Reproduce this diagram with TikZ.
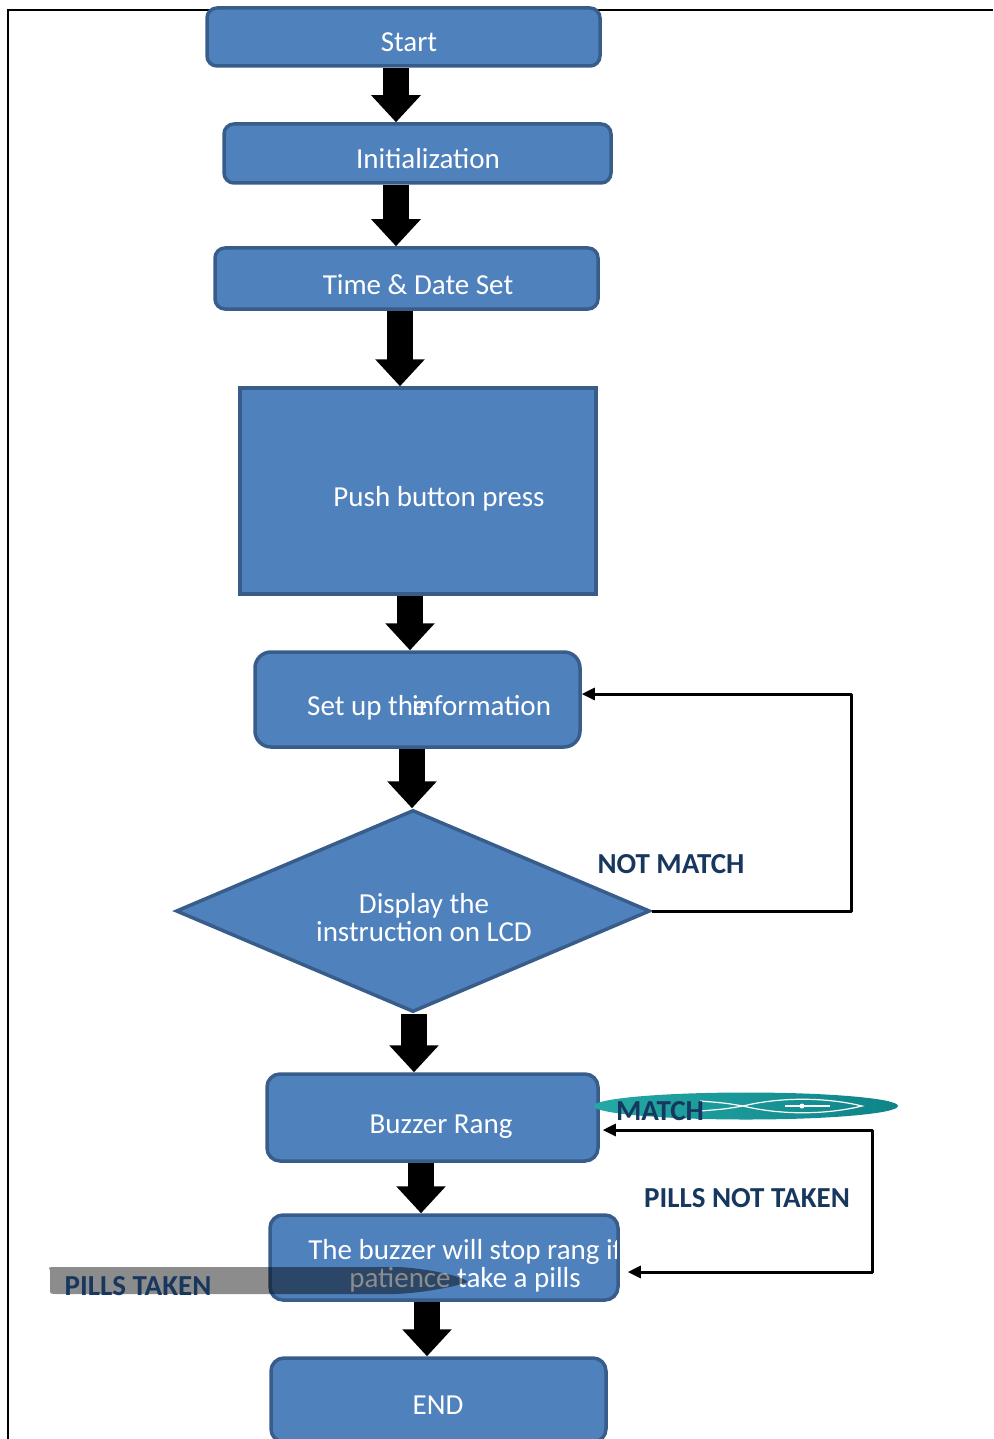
\documentclass[tikz,border=0pt]{standalone}
\usepackage{fontspec}
\setmainfont{Carlito}
\usetikzlibrary{arrows.meta,shapes.geometric,calc}
\definecolor{boxfill}{HTML}{4F81BD}
\definecolor{boxline}{HTML}{385D8A}
\definecolor{labelblue}{HTML}{17375E}
\definecolor{tealA}{HTML}{25A8A6}
\definecolor{tealB}{HTML}{0E8488}
\begin{document}
\begin{tikzpicture}[x=1pt,y=-1pt,
  box/.style={draw=boxline, fill=boxfill, line width=3.5pt, rounded corners=10pt, inner sep=0pt},
  boxtext/.style={text=white, inner sep=0pt, anchor=base, font=\fontsize{29}{28}\selectfont},
  lbl/.style={text=labelblue, inner sep=0pt, anchor=base, font=\fontsize{29}{28}\selectfont\bfseries},
  barrow/.style={draw=black, line width=26pt, -{Triangle[width=48pt,length=27pt]}},
  loopline/.style={draw=black, line width=3pt, line join=round}
]
\useasboundingbox (0,0) rectangle (993,1439);
% frame
\draw[line width=2pt] (993,10) -- (8,10) -- (8,1439);

% boxes
\node[box, minimum width=393pt, minimum height=58pt] (start) at (403.5,37) {};
\node[box, minimum width=387pt, minimum height=59pt] (init) at (417.5,153.5) {};
\node[box, minimum width=383pt, minimum height=61pt] (time) at (406.5,278.5) {};
\node[box, rounded corners=0pt, minimum width=356pt, minimum height=206pt] (push) at (418,491) {};
\node[box, rounded corners=16pt, minimum width=325pt, minimum height=95pt] (setup) at (417.5,699.5) {};
\node[diamond, draw=boxline, fill=boxfill, line width=3.5pt, inner sep=0pt, minimum width=474pt, minimum height=202pt] (disp) at (413,911) {};
\node[box, rounded corners=13pt, minimum width=331pt, minimum height=87pt] (buzz) at (432.5,1117.5) {};
\node[box, rounded corners=13pt, minimum width=348pt, minimum height=85pt] (stop) at (444,1257.5) {};
\node[box, rounded corners=13pt, minimum width=335pt, minimum height=84pt] (end) at (438.5,1400) {};

% box texts
\node[boxtext] (tstart) at (409,52) {Start};
\node[boxtext] (tinit) at (428,169) {Initialization};
\node[boxtext] (ttime) at (418,294) {Time \& Date Set};
\node[boxtext] (tpush) at (439,506) {Push button press};
\node[boxtext, anchor=base west] (tset1) at (307,715) {Set up the};
\node[boxtext, anchor=base west] (tset2) at (412,715) {information};
\node[text=white, inner sep=0pt, align=center, font=\fontsize{29}{28}\selectfont] (tdisp) at (424,918) {Display the\\instruction on LCD};
\node[boxtext] (tbuzz) at (441,1133) {Buzzer Rang};
\begin{scope}
  \clip (272,1217) rectangle (616,1298);
  \node[boxtext] (tstop1) at (465,1259) {The buzzer will stop rang if};
  \node[boxtext] (tstop2) at (465,1287) {patience take a pills};
\end{scope}
\node[boxtext] (tend) at (438,1414) {END};

% block arrows
\draw[barrow] ([xshift=-7.5pt]start.south) -- ([xshift=-21.5pt]init.north);
\draw[barrow] ([xshift=-21.5pt]init.south) -- ([xshift=-10.5pt]time.north);
\draw[barrow] ([xshift=-6.5pt]time.south) -- ([xshift=-18pt]push.north);
\draw[barrow] ([xshift=-8pt]push.south) -- ([xshift=-7.5pt]setup.north);
\draw[barrow] ([xshift=-5.5pt]setup.south) -- ([xshift=-1pt]disp.north);
\draw[barrow] ([xshift=1pt]disp.south) -- ([xshift=-18.5pt]buzz.north);
\draw[barrow] ([xshift=-11.5pt]buzz.south) -- ([xshift=-23pt]stop.north);
\draw[barrow] ([xshift=-17pt]stop.south) -- ([xshift=-11.5pt]end.north);

% NOT MATCH loop
\coordinate (nm) at (851,694);
\draw[loopline, -{Triangle[width=12pt,length=13pt]}] (disp.east) -| (nm) -- ([yshift=5.5pt]setup.east);
\node[lbl] (lnm) at (671,873) {NOT MATCH};

% PILLS NOT TAKEN loop
\coordinate (pn) at (872,1130);
\draw[loopline, {Triangle[width=12pt,length=13pt]}-{Triangle[width=12pt,length=13pt]}]
  ([xshift=3pt,yshift=-12.5pt]buzz.east) -- (pn) |- ([xshift=8pt,yshift=-14.5pt]stop.east);
\node[lbl] (lpnt) at (747,1207) {PILLS NOT TAKEN};

% MATCH decoration
\shade[left color=tealA, right color=tealB] (746,1106) ellipse [x radius=152, y radius=13.5];
\draw[white, line width=1.2pt] (700,1101) .. controls (725,1103) .. (743,1106) .. controls (725,1109) .. (700,1111);
\draw[white, line width=1.2pt] (743,1106) .. controls (780,1097) and (825,1097) .. (862,1106) .. controls (825,1115) and (780,1115) .. (743,1106);
\draw[white, line width=1.4pt] (785,1106) -- (830,1106);
\fill[white] (802,1106) circle (2.5);
\node[lbl] (lmatch) at (660,1120) {MATCH};

% PILLS TAKEN decoration
\fill[black, opacity=0.45] (50,1270) .. controls (48,1267) .. (60,1267) -- (400,1267) .. controls (440,1270) and (465,1278) .. (468,1282) .. controls (450,1288) and (420,1293) .. (395,1294) -- (60,1294) .. controls (50,1294) .. (50,1290) -- cycle;
\node[lbl] (lpt) at (138,1295) {PILLS TAKEN};
\end{tikzpicture}
\end{document}
